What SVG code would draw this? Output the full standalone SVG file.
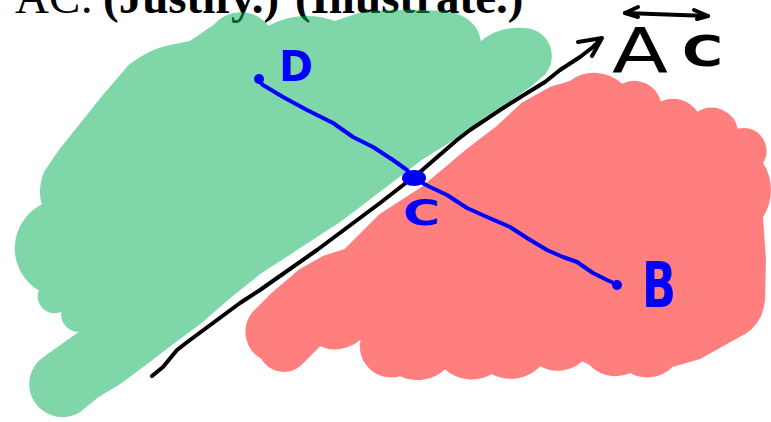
<svg xmlns="http://www.w3.org/2000/svg" width="771" height="422" viewBox="0 0 771 422">
<style>
.hdr{font-family:"Liberation Serif",serif;font-size:47px;fill:#000}
.blob{stroke-width:2;stroke-linejoin:round}
.ink{fill:none;stroke-linecap:round;stroke-linejoin:round}
.blue{stroke:#0000ff;stroke-width:4}
.black{stroke:#000;stroke-width:4}
.lblb{font-family:"DejaVu Sans",sans-serif;font-weight:bold;fill:#0000ff}
.lblk{font-family:"DejaVu Sans",sans-serif;fill:#000}
</style>
<rect width="771" height="422" fill="#fff"/>
<text class="hdr" x="15" y="13">AC:<tspan x="103" font-weight="bold">(Justify.)</tspan><tspan x="295" font-weight="bold">(Illustrate.)</tspan></text>
<g id="green-region" opacity="0.5">
<path class="blob" fill="#01b155" stroke="#01b155" d="M83,330 L45,357 A32,32 0 1 0 80,411 L97,397 L120,383 L147,363 L173,343 L200,323 L230,297 L260,273 L300,247 L340,221 L390,183 L420,160 L463,133 L483,117 L510,100 L530,86 L543,75 A27,27 0 0 0 523,29 A60,60 0 0 0 480,43 Q478,22 455,14 Q420,8 362,13 L335,22 A80,80 0 0 0 268,27 A34,34 0 0 0 215,25 L190,42 L170,46 Q150,50 130,65 L100,100 L60,150 L45,172 Q38,190 43,205 A48,48 0 0 0 40,290 A16,16 0 0 0 63,310 A16,16 0 0 0 83,330 Z"/>
</g>
<g id="red-region" opacity="0.5">
<path class="blob" fill="#ff0101" stroke="#ff0101" d="M253,313 L273,293 L300,270 L323,257 L345,250 L380,215 L423,187 L467,150 L497,127 L523,103 L550,88 L570,82 A40,40 0 0 1 622,85 A26,26 0 0 1 660,103 A28,28 0 0 1 697,113 A26,26 0 0 1 737,130 A22,22 0 0 1 762,163 A50,50 0 0 1 762,217 L765,260 L764,300 Q762,322 745,333 L700,358 L672,366 A35,35 0 0 1 630,372 A35,35 0 0 1 590,364 L582,360 A35,35 0 0 1 540,365 A40,40 0 0 1 492,373 A40,40 0 0 1 445,368 A40,40 0 0 1 400,375 A30,30 0 0 1 368,327 A36,36 0 0 1 320,345 L300,365 A25,25 0 0 1 262,358 A30,30 0 0 1 253,313 Z"/>
</g>
<g id="connectors">
<polyline class="ink black" points="152,376 163,367 177,350 190,340 213,323 240,303 260,290 317,250 380,203 420,172 457,140 470,130 500,110 527,93 545,82 560,70 580,57 593,47 601,39"/>
<polyline class="ink black" points="578,42 602,38 592,56"/>
<polyline class="ink blue" points="258,80 263,85 283,97 307,110 333,123 353,137 373,147 393,160 407,170 413,178"/>
<polyline class="ink blue" points="413,178 430,187 447,195 467,208 487,217 510,227 527,238 547,250 563,257 577,262 593,273 607,280 616,284"/>
</g>
<g id="node-D">
<circle cx="259" cy="79" r="5" fill="#0000ff"/>
<text class="lblb" x="279" y="81" font-size="42" textLength="34" lengthAdjust="spacingAndGlyphs">D</text>
</g>
<g id="node-C">
<ellipse cx="414" cy="178" rx="12" ry="8" fill="#0000ff"/>
<text class="lblb" x="403" y="225" font-size="36" textLength="37" lengthAdjust="spacingAndGlyphs">C</text>
</g>
<g id="node-B">
<circle cx="617" cy="285" r="5" fill="#0000ff"/>
<text class="lblb" x="642" y="307" font-size="62" textLength="34" lengthAdjust="spacingAndGlyphs">B</text>
</g>
<g id="label-AC">
<polyline class="ink black" points="625,13 708,16"/>
<polyline class="ink black" points="638,7 625,13 638,17"/>
<polyline class="ink black" points="694,10 708,16 697,19"/>
<text class="lblk" x="612" y="73" font-size="62" textLength="56" lengthAdjust="spacingAndGlyphs">A</text>
<text class="lblk" x="682" y="66" font-size="42" font-weight="bold" textLength="41" lengthAdjust="spacingAndGlyphs">C</text>
</g>
</svg>
